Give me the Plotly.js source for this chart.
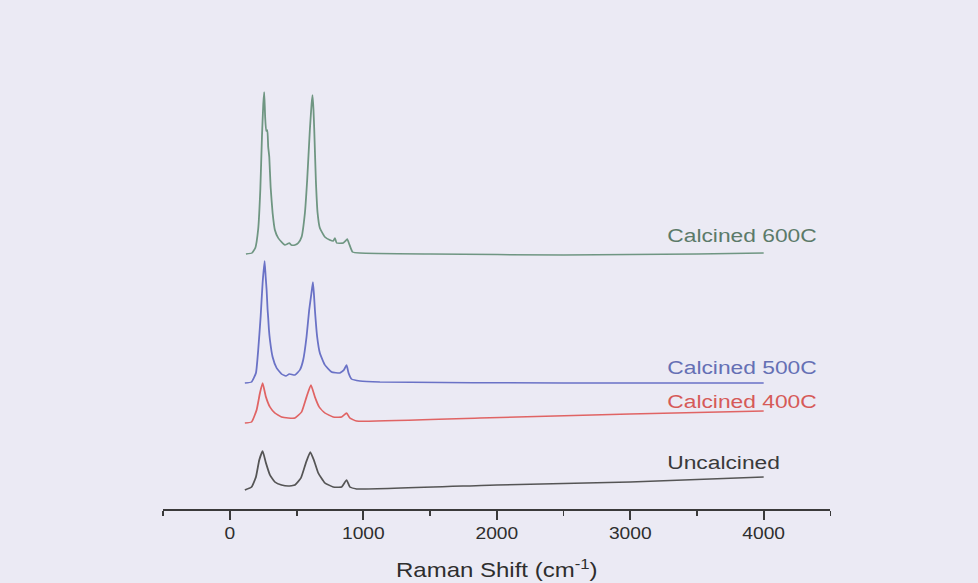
<!DOCTYPE html>
<html>
<head>
<meta charset="utf-8">
<script src="https://cdn.plot.ly/plotly-3.0.1.min.js"></script>
<style>
html, body { margin:0; padding:0; background:#ebeaf4; overflow:hidden; width:978px; height:583px; }
#wrap { width:815px; height:583px; transform:scaleX(1.2); transform-origin:0 0; }
</style>
</head>
<body>
<div id="wrap"></div>
<script>
// Raman shift (cm^-1) and offset intensity (a.u.)
const wn600 = [120,165,190,212,228,240,250,257,264,272,280,287,295,305,320,337,362,387,412,430,445,460,487,512,537,562,579,599,612,619,626,632,644,657,674,712,749,774,787,800,849,866,879,894,919,974,1500,2500,3500,4000];
const int600 = [255,256,261,280,320,372,405,417,392,378,379,362,352,322,296,279,271,267,264,265,266,264,264,266,272,296,329,379,405,414,400,379,329,296,281,272,269,268,271,266,266,268,270,265,257,256,255,254,255,256];

const wn500 = [112,162,195,212,230,245,260,268,275,282,287,292,300,320,350,387,419,445,487,524,549,574,594,610,622,630,637,654,674,712,762,824,854,874,889,911,974,1124,2500,4000];
const int500 = [126,127,136,159,192,226,248,232,219,200,191,180,169,152,141,135,133,135,134,139,149,172,199,215,227,214,199,172,156,144,137,136,139,144,136,130,128,127,126,126];

const wn400 = [112,162,200,225,245,270,300,337,387,437,487,537,574,607,637,669,712,774,837,874,899,949,1873,2996,4000];
const int400 = [86,87,99,116,126,112,102,96,92,91,91,97,112,124,112,102,96,92,92,96,91,88,91,95,98];

const wnUn = [112,162,195,220,245,270,300,337,387,437,487,532,569,602,629,662,712,774,837,874,899,949,2000,3000,4000];
const intUn = [19,22,32,49,58,46,34,27,24,23,24,31,46,57,49,36,26,22,22,29,22,20,24,27,32];

const seriesNames = ["Uncalcined","Calcined 400C","Calcined 500C","Calcined 600C"];
const seriesColors = ["#555555","#e06464","#6a72c6","#6f9682"];
const labelColors = ["#3a3a3a","#d65a58","#6570b4","#5b7a69"];
const labelY = [47,108,142,274];
const labelX = 3258;

const xs = [wnUn, wn400, wn500, wn600];
const ys = [intUn, int400, int500, int600];

const traces = xs.map((x, i) => ({
  x: x, y: ys[i], type: 'scatter', mode: 'lines', name: seriesNames[i],
  line: {color: seriesColors[i], width: 1.5, shape: 'spline', smoothing: 0.4},
  hoverinfo: 'skip'
}));

const annotations = seriesNames.map((n, i) => ({
  x: labelX, y: labelY[i], xref: 'x', yref: 'y', text: n, showarrow: false,
  xanchor: 'left', yanchor: 'middle',
  font: {family: 'Liberation Sans, Arial, sans-serif', size: 19, color: labelColors[i]}
}));

const layout = {
  width: 815, height: 583,
  margin: {l: 135.83, r: 122.5, t: 70, b: 74},
  paper_bgcolor: '#ebeaf4', plot_bgcolor: '#ebeaf4',
  showlegend: false,
  font: {family: 'Liberation Sans, Arial, sans-serif', color: '#333333'},
  xaxis: {
    range: [-500, 4500], tick0: 0, dtick: 1000,
    showgrid: false, zeroline: false,
    showline: true, linecolor: '#3a3a3a', linewidth: 1.5,
    ticks: 'outside', ticklen: 9, tickwidth: 1.5, tickcolor: '#3a3a3a',
    tickfont: {size: 16, color: '#2e2e2e'},
    minor: {dtick: 500, tick0: 0, ticks: 'outside', ticklen: 5, tickwidth: 1.5, tickcolor: '#3a3a3a', showgrid: false},
    title: {text: 'Raman Shift (cm<sup>-1</sup>)', font: {size: 20, color: '#2e2e2e'}, standoff: 22}
  },
  yaxis: {range: [0, 439], visible: false, showgrid: false, zeroline: false},
  annotations: annotations
};

Plotly.newPlot('wrap', traces, layout, {staticPlot: true, displayModeBar: false});
</script>
</body>
</html>
